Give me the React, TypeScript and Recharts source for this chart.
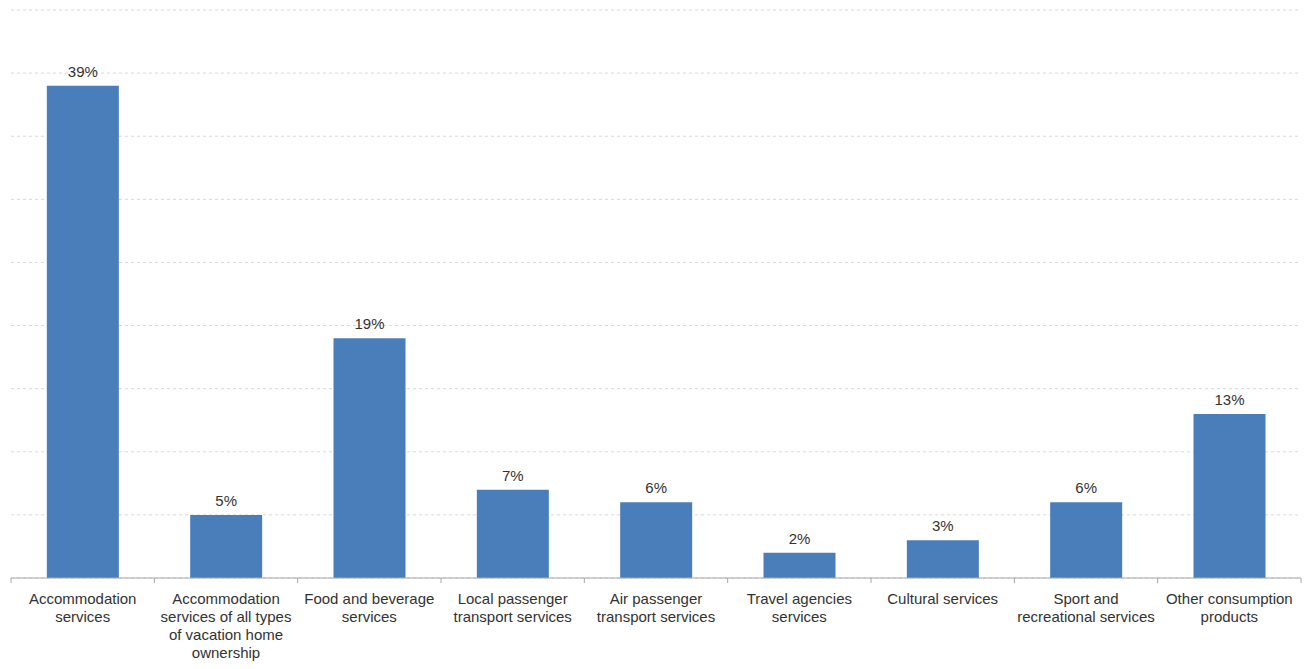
import { BarChart, Bar, XAxis, YAxis, CartesianGrid, LabelList } from "recharts";

const categories = [
  "Accommodation\nservices",
  "Accommodation\nservices of all types\nof vacation home\nownership",
  "Food and beverage\nservices",
  "Local passenger\ntransport services",
  "Air passenger\ntransport services",
  "Travel agencies\nservices",
  "Cultural services",
  "Sport and\nrecreational services",
  "Other consumption\nproducts",
];

const shares = [39, 5, 19, 7, 6, 2, 3, 6, 13];

const yTicks = [0, 5, 10, 15, 20, 25, 30, 35, 40, 45];

const data = categories.map((name, i) => ({ name, value: shares[i] }));

const FONT = "'Liberation Sans', Arial, sans-serif";

function CategoryTick(props: any) {
  const { x, y, payload, width } = props;
  const lines = String(payload.value).split("\n");
  const half = width / categories.length / 2;
  return (
    <g>
      <line x1={x - half} x2={x - half} y1={y} y2={y + 5} stroke="#a6a6a6" />
      {payload.index === categories.length - 1 && (
        <line x1={x + half} x2={x + half} y1={y} y2={y + 5} stroke="#a6a6a6" />
      )}
      <text
        x={x}
        y={y + 26}
        textAnchor="middle"
        fill="#333"
        fontSize={15}
        fontFamily={FONT}
      >
        {lines.map((l, i) => (
          <tspan key={i} x={x} dy={i === 0 ? 0 : 18}>
            {l}
          </tspan>
        ))}
      </text>
    </g>
  );
}

export default function App() {
  return (
    <div style={{ position: "absolute", left: 0, top: 0, background: "#fff" }}>
      <BarChart
        width={1312}
        height={669}
        data={data}
        margin={{ top: 10, right: 11, bottom: 0, left: 11 }}
        barCategoryGap="25%"
      >
        <CartesianGrid
          vertical={false}
          stroke="#d9d9d9"
          strokeDasharray="3 3"
        />
        <YAxis hide domain={[0, 45]} ticks={yTicks} />
        <XAxis
          dataKey="name"
          height={91}
          interval={0}
          tickLine={false}
          tickSize={0}
          tickMargin={0}
          axisLine={{ stroke: "#a6a6a6" }}
          tick={<CategoryTick />}
        />
        <Bar dataKey="value" fill="#4A7EBB" isAnimationActive={false}>
          <LabelList
            dataKey="value"
            position="top"
            offset={9}
            formatter={(v: any) => `${v}%`}
            fill="#333"
            fontSize={15}
            fontFamily={FONT}
          />
        </Bar>
      </BarChart>
    </div>
  );
}
